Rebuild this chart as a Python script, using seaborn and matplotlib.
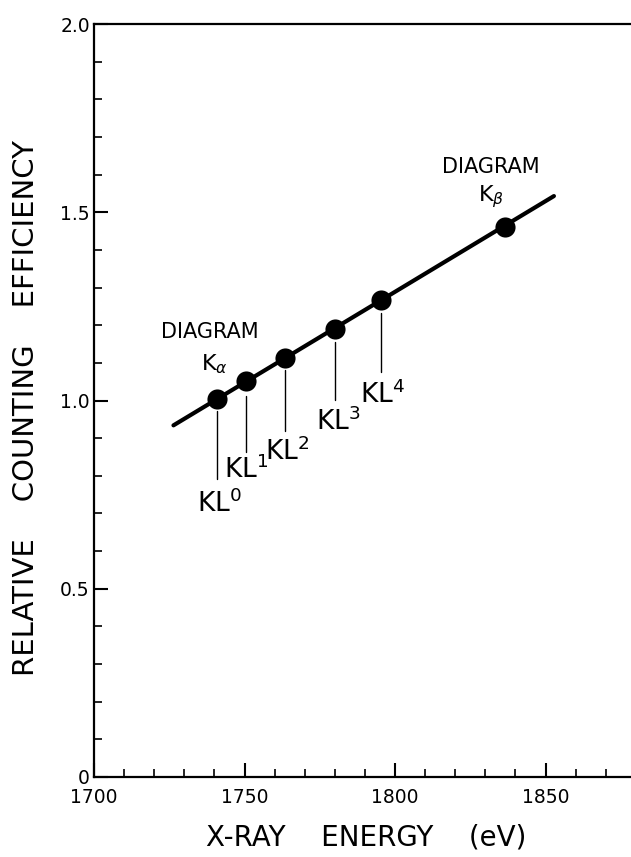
import matplotlib
matplotlib.use("Agg")
import matplotlib.pyplot as plt
from matplotlib.ticker import MultipleLocator
import seaborn as sns

# ── Data ─────────────────────────────────────────────────────────────────────
line_names  = ["KL0", "KL1", "KL2", "KL3", "KL4", "KB"]
energy      = [1740.7, 1750.4, 1763.5, 1780.2, 1795.3, 1836.5]   # eV
efficiency  = [1.003, 1.053, 1.114, 1.191, 1.267, 1.462]

fit_x = [1726.4, 1852.8]
fit_y = [0.934, 1.543]

# leader lines below the satellite points, and their labels
kl_labels    = [r"KL$^0$", r"KL$^1$", r"KL$^2$", r"KL$^3$", r"KL$^4$"]
leader_top   = [0.973, 1.012, 1.081, 1.155, 1.232]
leader_bot   = [0.792, 0.864, 0.920, 1.001, 1.076]
label_x      = [1741.5, 1750.4, 1764.2, 1781.1, 1795.8]
label_y      = [0.705, 0.794, 0.842, 0.922, 0.994]

x_ticks = [1700, 1750, 1800, 1850]
y_ticks = [0, 0.5, 1.0, 1.5, 2.0]
y_tick_labels = ["0", "0.5", "1.0", "1.5", "2.0"]

# ── Style ────────────────────────────────────────────────────────────────────
sns.set_style("ticks")
plt.rcParams["font.family"] = ["DejaVu Sans"]
plt.rcParams["mathtext.fontset"] = "dejavusans"
for key in ["text.color", "axes.labelcolor", "xtick.color", "ytick.color",
            "axes.edgecolor"]:
    plt.rcParams[key] = "black"

fig = plt.figure(figsize=(6.31, 8.57), dpi=100)
ax = fig.add_axes([94 / 631, 80 / 857, 537 / 631, 753 / 857])

# fitted line and measured points
sns.lineplot(x=fit_x, y=fit_y, color="black", linewidth=3.0, ax=ax,
             sort=False, legend=False)
sns.scatterplot(x=energy, y=efficiency, color="black", s=210,
                edgecolor="black", linewidth=0, ax=ax, legend=False, zorder=3)

# leaders + KL^n labels
for x, top, bot, lab, lx, ly in zip(energy, leader_top, leader_bot,
                                    kl_labels, label_x, label_y):
    ax.plot([x, x], [bot, top], color="black", linewidth=1.0)
    ax.text(lx, ly, lab, ha="center", va="baseline", fontsize=19)

# diagram line annotations
ax.text(1738.5, 1.166, "DIAGRAM", ha="center", va="baseline", fontsize=15)
ax.text(1740.0, 1.081, r"K$_\alpha$", ha="center", va="baseline", fontsize=16)
ax.text(1831.8, 1.603, "DIAGRAM", ha="center", va="baseline", fontsize=15)
ax.text(1831.8, 1.528, r"K$_\beta$", ha="center", va="baseline", fontsize=16)

# ── Axes ─────────────────────────────────────────────────────────────────────
ax.set_xlim(1700, 1700 + 537 / 3.01)
ax.set_ylim(0, 2.0)
ax.set_xticks(x_ticks)
ax.set_xticklabels([str(t) for t in x_ticks])
ax.xaxis.set_minor_locator(MultipleLocator(10))
ax.set_yticks(y_ticks)
ax.set_yticklabels(y_tick_labels)
ax.yaxis.set_minor_locator(MultipleLocator(0.1))

ax.tick_params(which="major", direction="in", length=10, width=1.5,
               labelsize=13.5, color="black")
ax.tick_params(axis="x", which="major", pad=8)
ax.tick_params(axis="y", which="major", pad=3)
ax.tick_params(which="minor", direction="in", length=5.5, width=1.2)

for side in ["left", "bottom", "top"]:
    ax.spines[side].set_linewidth(1.6)
ax.spines["right"].set_visible(False)

ax.set_xlabel("X-RAY    ENERGY    (eV)", fontsize=20)
ax.set_ylabel("RELATIVE    COUNTING    EFFICIENCY", fontsize=21)
ax.xaxis.set_label_coords(0.5065, -0.062)
ax.yaxis.set_label_coords(-0.10, 0.49)

plt.savefig("out.png", dpi=100)
